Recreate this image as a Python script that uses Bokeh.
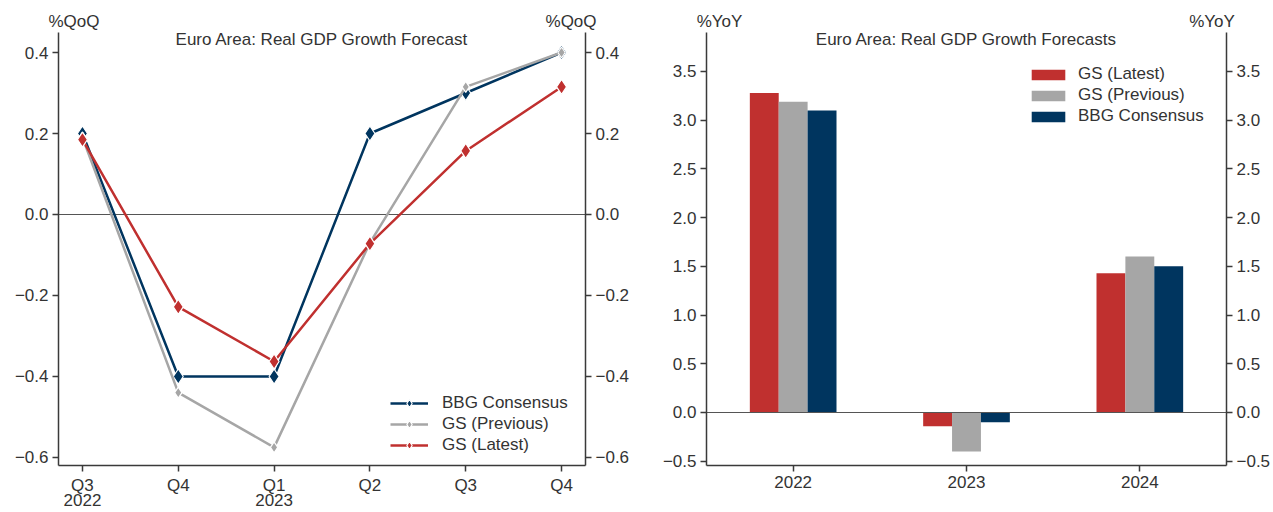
from bokeh.plotting import figure
from bokeh.models import (Range1d, FixedTicker, LinearAxis, Label,
                          Legend, LegendItem, ColumnDataSource, CustomJSTickFormatter)
from bokeh.transform import dodge
from bokeh.layouts import row
from bokeh.embed import file_html
from bokeh.resources import INLINE

# ---------------- data ----------------
quarters = ["Q3\n2022", "Q4", "Q1\n2023", "Q2", "Q3", "Q4"]
bbg_qoq = [0.20, -0.40, -0.40, 0.20, 0.30, 0.40]
gs_prev_qoq = [0.19, -0.44, -0.575, -0.07, 0.315, 0.40]
gs_latest_qoq = [0.185, -0.228, -0.363, -0.072, 0.157, 0.315]
qoq_ticks = [-0.6, -0.4, -0.2, 0.0, 0.2, 0.4]

years = ["2022", "2023", "2024"]
gs_latest_yoy = [3.28, -0.14, 1.43]
gs_prev_yoy = [3.19, -0.40, 1.60]
bbg_yoy = [3.10, -0.10, 1.50]
yoy_ticks = [-0.5, 0.0, 0.5, 1.0, 1.5, 2.0, 2.5, 3.0, 3.5]

# ---------------- style ----------------
FONT = "Liberation Sans"
TXT = "#333333"
AX = "#3a3a3a"
RED = "#c0302f"
GRAY = "#a6a6a6"
NAVY = "#00355f"
FS = "17px"

fmt_code = "return tick.toFixed(1).replace('-', '\u2212');"


def style_axis(ax):
    ax.axis_line_color = AX
    ax.axis_line_width = 1.5
    ax.major_tick_line_color = AX
    ax.major_tick_line_width = 1.5
    ax.major_tick_out = 6
    ax.major_tick_in = 0
    ax.minor_tick_line_color = None
    ax.major_label_text_font = FONT
    ax.major_label_text_font_size = FS
    ax.major_label_text_color = TXT
    ax.major_label_standoff = 4


def unit_axis(p, positions, unit):
    """Invisible top axis whose two labels are the units above each spine."""
    ax = LinearAxis(ticker=FixedTicker(ticks=positions),
                    formatter=CustomJSTickFormatter(code="return '%s';" % unit))
    ax.axis_line_color = None
    ax.major_tick_line_color = None
    ax.minor_tick_line_color = None
    ax.major_tick_out = 0
    ax.major_tick_in = 0
    ax.major_label_standoff = 2
    ax.major_label_text_font = FONT
    ax.major_label_text_font_size = FS
    ax.major_label_text_color = TXT
    p.add_layout(ax, "above")


def base_fig(width, xr, yr, bl, br):
    p = figure(width=width, height=512, x_range=Range1d(*xr), y_range=Range1d(*yr),
               output_backend="svg", toolbar_location=None,
               min_border_left=bl, min_border_right=br, min_border_top=32, min_border_bottom=47)
    p.grid.visible = False
    p.outline_line_color = None
    p.background_fill_color = "white"
    p.border_fill_color = "white"
    return p


def title_label(p, x, y, text):
    p.add_layout(Label(x=x, y=y, text=text, text_align="center", text_baseline="middle",
                       y_offset=-7, text_font=FONT, text_font_size=FS, text_color=TXT))


# ---------------- left chart ----------------
x_idx = list(range(len(quarters)))
XL0, XL1 = -0.25, 5.25
YL0, YL1 = -0.6198, 0.4494

p1 = base_fig(644, (XL0, XL1), (YL0, YL1), 58, 59)
p1.xaxis.ticker = FixedTicker(ticks=x_idx)
p1.xaxis.major_label_overrides = {i: q for i, q in zip(x_idx, quarters)}
p1.yaxis.ticker = FixedTicker(ticks=qoq_ticks)
p1.yaxis.formatter = CustomJSTickFormatter(code=fmt_code)
p1.add_layout(LinearAxis(ticker=FixedTicker(ticks=qoq_ticks),
                         formatter=CustomJSTickFormatter(code=fmt_code)), "right")
for ax in p1.xaxis + p1.yaxis:
    style_axis(ax)
p1.xaxis.major_label_text_line_height = 0.8
unit_axis(p1, [-0.088, 5.099], "%QoQ")

p1.segment(x0=XL0, y0=0, x1=XL1, y1=0, line_color="#555555", line_width=1.2)

src1 = ColumnDataSource(dict(x=x_idx, bbg=bbg_qoq, prev=gs_prev_qoq, latest=gs_latest_qoq))
items = []
for col, color, size, name in [("bbg", NAVY, 15, "BBG Consensus"),
                               ("prev", GRAY, 11, "GS (Previous)"),
                               ("latest", RED, 15, "GS (Latest)")]:
    rl = p1.line("x", col, source=src1, line_color=color, line_width=2.5)
    rm = p1.scatter("x", col, source=src1, marker="diamond", size=size,
                    fill_color=color, line_color="white", line_width=1.2)
    items.append(LegendItem(label=name, renderers=[rl, rm]))

leg1 = Legend(items=items, location=(332, 10), border_line_color=None,
              background_fill_alpha=0, label_text_font=FONT, label_text_font_size=FS,
              label_text_color=TXT, glyph_width=38, glyph_height=20, label_standoff=14,
              spacing=1, padding=10, margin=0)
p1.add_layout(leg1)

title_label(p1, (XL0 + XL1) / 2, YL1, "Euro Area: Real GDP Growth Forecast")

# ---------------- right chart ----------------
y_idx = list(range(len(years)))
XR0, XR1 = -0.5, 2.5
YR0, YR1 = -0.544, 3.900

p2 = base_fig(629, (XR0, XR1), (YR0, YR1), 62, 46)
p2.xaxis.ticker = FixedTicker(ticks=y_idx)
p2.xaxis.major_label_overrides = {i: y for i, y in zip(y_idx, years)}
p2.yaxis.ticker = FixedTicker(ticks=yoy_ticks)
p2.yaxis.formatter = CustomJSTickFormatter(code=fmt_code)
p2.add_layout(LinearAxis(ticker=FixedTicker(ticks=yoy_ticks),
                         formatter=CustomJSTickFormatter(code=fmt_code)), "right")
for ax in p2.xaxis + p2.yaxis:
    style_axis(ax)
unit_axis(p2, [-0.425, 2.4165], "%YoY")

src2 = ColumnDataSource(dict(x=y_idx, latest=gs_latest_yoy, prev=gs_prev_yoy, bbg=bbg_yoy))
w = 1 / 6
items2 = []
for col, color, off, name in [("latest", RED, -w, "GS (Latest)"),
                              ("prev", GRAY, 0, "GS (Previous)"),
                              ("bbg", NAVY, w, "BBG Consensus")]:
    r = p2.vbar(x=dodge("x", off), top=col, width=w, source=src2,
                fill_color=color, line_color=None)
    items2.append(LegendItem(label=name, renderers=[r]))

p2.segment(x0=XR0, y0=0, x1=XR1, y1=0, line_color="#555555", line_width=1.2)

leg2 = Legend(items=items2, location=(321, 339), border_line_color=None,
              background_fill_alpha=0, label_text_font=FONT, label_text_font_size=FS,
              label_text_color=TXT, glyph_width=42, glyph_height=13, label_standoff=9,
              spacing=1, padding=10, margin=0)
p2.add_layout(leg2)

title_label(p2, (XR0 + XR1) / 2, YR1, "Euro Area: Real GDP Growth Forecasts")

layout = row(p1, p2)
open("out.html", "w").write(file_html(layout, INLINE))
